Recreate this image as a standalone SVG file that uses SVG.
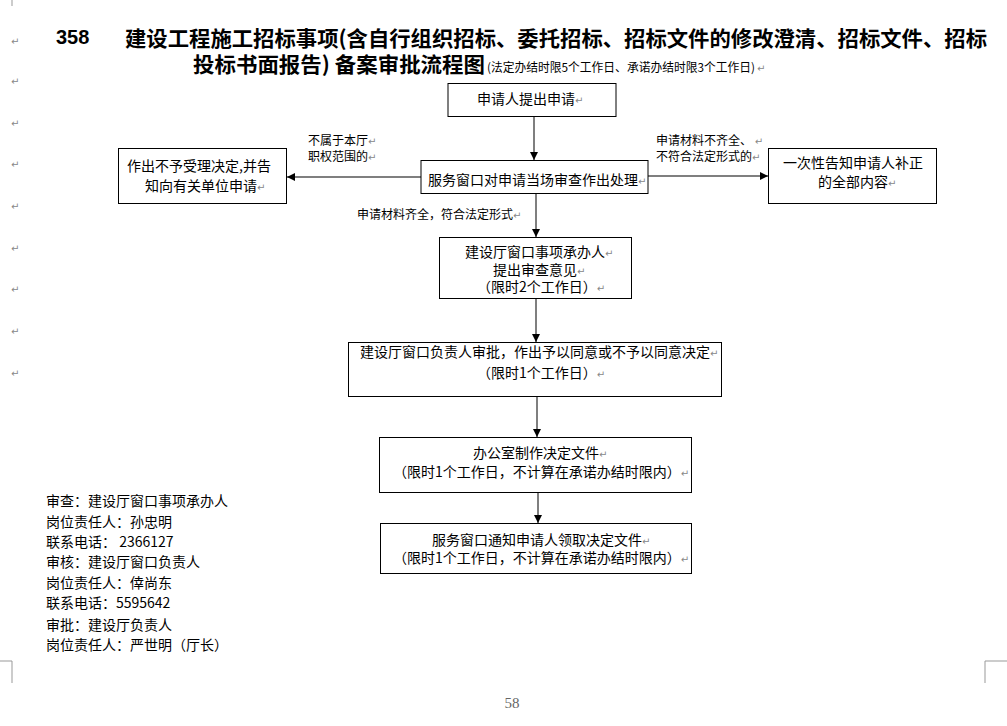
<svg xmlns="http://www.w3.org/2000/svg" width="1007" height="726" viewBox="0 0 1007 726">
<style>
.t{font-family:"Noto Sans CJK SC","DejaVu Sans",sans-serif;font-size:14px;fill:#000}
.s{font-family:"Noto Sans CJK SC","DejaVu Sans",sans-serif;font-size:12px;fill:#000}
.h{font-family:"Noto Sans CJK SC","Liberation Sans",sans-serif;font-size:21px;font-weight:bold;fill:#000}
.pm{font-family:"DejaVu Sans",sans-serif;font-size:10px;fill:#888;font-weight:normal}
.box{fill:#fff;stroke:#000;stroke-width:1}
.ln{stroke:#555;stroke-width:1.5;fill:none}
.cm{stroke:#999;stroke-width:1;fill:none}
</style>
<defs>
<marker id="ah" viewBox="0 0 10 10" refX="10" refY="5" markerWidth="8" markerHeight="8" markerUnits="userSpaceOnUse" orient="auto">
<path d="M0,0 L10,5 L0,10 Z" fill="#000"/>
</marker>
</defs>
<rect width="1007" height="726" fill="#fff"/>

<!-- page corner marks -->
<path class="cm" d="M12,0 V6 M0,661 H12 V683 M1007,661 H985 V683"/>

<!-- left paragraph marks -->
<g id="margin-marks">
<text class="pm" x="11" y="45">↵</text>
<text class="pm" x="11" y="85">↵</text>
<text class="pm" x="11" y="127">↵</text>
<text class="pm" x="11" y="168">↵</text>
<text class="pm" x="11" y="210">↵</text>
<text class="pm" x="11" y="252">↵</text>
<text class="pm" x="11" y="293">↵</text>
<text class="pm" x="11" y="335">↵</text>
<text class="pm" x="11" y="377">↵</text>
</g>

<!-- title -->
<g id="title">
<text x="56" y="44" font-family="Liberation Sans,Arial,sans-serif" font-size="20" font-weight="bold">358</text>
<text class="h" x="125" y="46" textLength="862" lengthAdjust="spacingAndGlyphs">建设工程施工招标事项(含自行组织招标、委托招标、招标文件的修改澄清、招标文件、招标</text>
<text class="h" x="193" y="72" textLength="292" lengthAdjust="spacingAndGlyphs">投标书面报告) 备案审批流程图</text>
<text class="s" x="487" y="72" font-size="13" textLength="268" lengthAdjust="spacingAndGlyphs">(法定办结时限5个工作日、承诺办结时限3个工作日)</text>
<text class="pm" x="757" y="72">↵</text>
</g>

<!-- connectors -->
<g id="connectors">
<line class="ln" x1="534" y1="116" x2="534" y2="160" marker-end="url(#ah)"/>
<line class="ln" x1="421" y1="177" x2="287" y2="177" marker-end="url(#ah)"/>
<line class="ln" x1="648" y1="176" x2="768" y2="176" marker-end="url(#ah)"/>
<line class="ln" x1="536" y1="193" x2="536" y2="237" marker-end="url(#ah)"/>
<line class="ln" x1="536" y1="298" x2="536" y2="342" marker-end="url(#ah)"/>
<line class="ln" x1="537" y1="396" x2="537" y2="437" marker-end="url(#ah)"/>
<line class="ln" x1="538" y1="492" x2="538" y2="523" marker-end="url(#ah)"/>
<text class="s" x="308" y="145">不属于本厅<tspan class="pm">↵</tspan></text>
<text class="s" x="308" y="161">职权范围的<tspan class="pm">↵</tspan></text>
<text class="s" x="656" y="145">申请材料不齐全、 <tspan class="pm">↵</tspan></text>
<text class="s" x="656" y="161">不符合法定形式的<tspan class="pm">↵</tspan></text>
<text class="s" x="357" y="219">申请材料齐全，符合法定形式<tspan class="pm">↵</tspan></text>
</g>

<g id="n1">
<rect class="box" x="448" y="83.5" width="168" height="33"/>
<text class="t" x="477" y="104" font-size="15.5">申请人提出申请<tspan class="pm">↵</tspan></text>
</g>

<g id="n2">
<rect class="box" x="421" y="160.5" width="227" height="33"/>
<text class="t" x="428" y="185">服务窗口对申请当场审查作出处理<tspan class="pm">↵</tspan></text>
</g>

<g id="n3">
<rect class="box" x="118.5" y="148.5" width="168" height="55"/>
<text class="t" x="127" y="171">作出不予受理决定,并告</text>
<text class="t" x="145" y="191">知向有关单位申请<tspan class="pm">↵</tspan></text>
</g>

<g id="n4">
<rect class="box" x="768.5" y="148.5" width="168" height="55"/>
<text class="t" x="783" y="168">一次性告知申请人补正</text>
<text class="t" x="818" y="187">的全部内容<tspan class="pm">↵</tspan></text>
</g>

<g id="n5">
<rect class="box" x="439.5" y="237.5" width="192" height="61"/>
<text class="t" x="465" y="257">建设厅窗口事项承办人<tspan class="pm">↵</tspan></text>
<text class="t" x="493" y="275">提出审查意见<tspan class="pm">↵</tspan></text>
<text class="t" x="477" y="292">（限时2个工作日）<tspan class="pm">↵</tspan></text>
</g>

<g id="n6">
<rect class="box" x="348.5" y="342.5" width="373" height="54"/>
<text class="t" x="360" y="357">建设厅窗口负责人审批，作出予以同意或不予以同意决定<tspan class="pm">↵</tspan></text>
<text class="t" x="477" y="378">（限时1个工作日）<tspan class="pm">↵</tspan></text>
</g>

<g id="n7">
<rect class="box" x="379.5" y="437.5" width="312" height="55"/>
<text class="t" x="473" y="458">办公室制作决定文件<tspan class="pm">↵</tspan></text>
<text class="t" x="393" y="477">（限时1个工作日，不计算在承诺办结时限内）<tspan class="pm">↵</tspan></text>
</g>

<g id="n8">
<rect class="box" x="380.5" y="523.5" width="311" height="50"/>
<text class="t" x="432" y="545">服务窗口通知申请人领取决定文件<tspan class="pm">↵</tspan></text>
<text class="t" x="393" y="563">（限时1个工作日，不计算在承诺办结时限内）<tspan class="pm">↵</tspan></text>
</g>

<g id="responsible">
<text class="t" x="46" y="506">审查：建设厅窗口事项承办人</text>
<text class="t" x="46" y="527">岗位责任人：孙忠明</text>
<text class="t" x="46" y="547">联系电话： 2366127</text>
<text class="t" x="46" y="567">审核：建设厅窗口负责人</text>
<text class="t" x="46" y="588">岗位责任人：倖尚东</text>
<text class="t" x="46" y="608">联系电话：5595642</text>
<text class="t" x="46" y="630">审批：建设厅负责人</text>
<text class="t" x="46" y="650">岗位责任人：严世明（厅长）</text>
</g>

<text x="512" y="708" text-anchor="middle" font-family="Liberation Serif,serif" font-size="15" fill="#666">58</text>
</svg>
